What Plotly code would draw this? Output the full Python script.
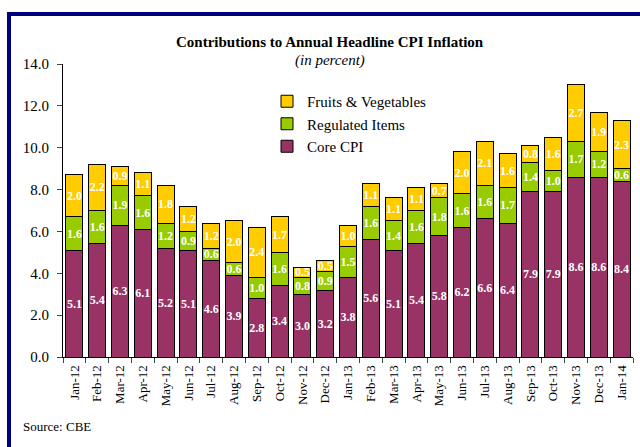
import plotly.graph_objects as go

months = ["Jan-12","Feb-12","Mar-12","Apr-12","May-12","Jun-12","Jul-12","Aug-12","Sep-12","Oct-12","Nov-12","Dec-12",
          "Jan-13","Feb-13","Mar-13","Apr-13","May-13","Jun-13","Jul-13","Aug-13","Sep-13","Oct-13","Nov-13","Dec-13","Jan-14"]
core_cpi = [5.1,5.4,6.3,6.1,5.2,5.1,4.6,3.9,2.8,3.4,3.0,3.2,3.8,5.6,5.1,5.4,5.8,6.2,6.6,6.4,7.9,7.9,8.6,8.6,8.4]
regulated = [1.6,1.6,1.9,1.6,1.2,0.9,0.6,0.6,1.0,1.6,0.8,0.9,1.5,1.6,1.4,1.6,1.8,1.6,1.6,1.7,1.4,1.0,1.7,1.2,0.6]
fruits_veg = [2.0,2.2,0.9,1.1,1.8,1.2,1.2,2.0,2.4,1.7,0.5,0.5,1.0,1.1,1.1,1.1,0.7,2.0,2.1,1.6,0.8,1.6,2.7,1.9,2.3]

FONT = "Liberation Serif"
series = [("Core CPI", core_cpi, "#993366", 3),
          ("Regulated Items", regulated, "#99CC00", 2),
          ("Fruits & Vegetables", fruits_veg, "#FFCC00", 1)]

fig = go.Figure()
for name, vals, col, rank in series:
    fig.add_trace(go.Bar(
        x=months, y=vals, name=name, legendgroup=name, legendrank=rank,
        marker=dict(color=col, line=dict(color="black", width=1)),
        texttemplate="%{y:.1f}", textposition="inside", insidetextanchor="middle",
        textangle=0, textfont=dict(family=FONT, size=12, color="white", weight="bold"),
    ))

W, H = 640, 447
L, R, T, B = 63, 7, 64, 90
pw, ph = W - L - R, H - T - B
def px(x): return (x - L) / pw
def py(y): return (H - B - y) / ph

fig.update_layout(
    width=W, height=H, barmode="stack", bargap=0.25,
    margin=dict(l=L, r=R, t=T, b=B),
    paper_bgcolor="white", plot_bgcolor="white",
    font=dict(family=FONT, color="black", size=15),
    uniformtext=dict(minsize=12, mode="show"),
    legend=dict(x=px(267), y=py(85), xanchor="left", yanchor="top",
                traceorder="grouped", tracegroupgap=0, itemwidth=30,
                font=dict(family=FONT, size=15), bgcolor="rgba(0,0,0,0)"),
    xaxis=dict(showline=True, linecolor="black", linewidth=1, ticks="outside", ticklen=5,
               tickson="boundaries", tickangle=-90, tickfont=dict(family=FONT, size=13),
               ticklabelstandoff=2, showgrid=False),
    yaxis=dict(range=[0, 14], dtick=2, tickformat=".1f", showline=True, linecolor="black",
               linewidth=1, ticks="outside", ticklen=5, showgrid=False, zeroline=False,
               ticklabelstandoff=5, tickfont=dict(family=FONT, size=15)),
    annotations=[
        dict(text="<b>Contributions to Annual Headline CPI Inflation</b>", x=px(330), y=py(42),
             xref="paper", yref="paper", showarrow=False, xanchor="center", yanchor="middle",
             font=dict(family=FONT, size=15)),
        dict(text="<i>(in percent)</i>", x=px(330), y=py(60),
             xref="paper", yref="paper", showarrow=False, xanchor="center", yanchor="middle",
             font=dict(family=FONT, size=15)),
        dict(text="Source: CBE", x=px(21), y=py(426),
             xref="paper", yref="paper", showarrow=False, xanchor="left", yanchor="middle",
             font=dict(family=FONT, size=13)),
    ],
    shapes=[dict(type="rect", xref="paper", yref="paper",
                 x0=px(9), x1=px(690), y0=py(500), y1=py(14),
                 line=dict(color="#000080", width=4), fillcolor="rgba(0,0,0,0)", layer="above")],
)

fig.write_html("out.html", config={"displayModeBar": False},
               post_script="document.body.style.margin='0';document.body.style.overflow='hidden';")
